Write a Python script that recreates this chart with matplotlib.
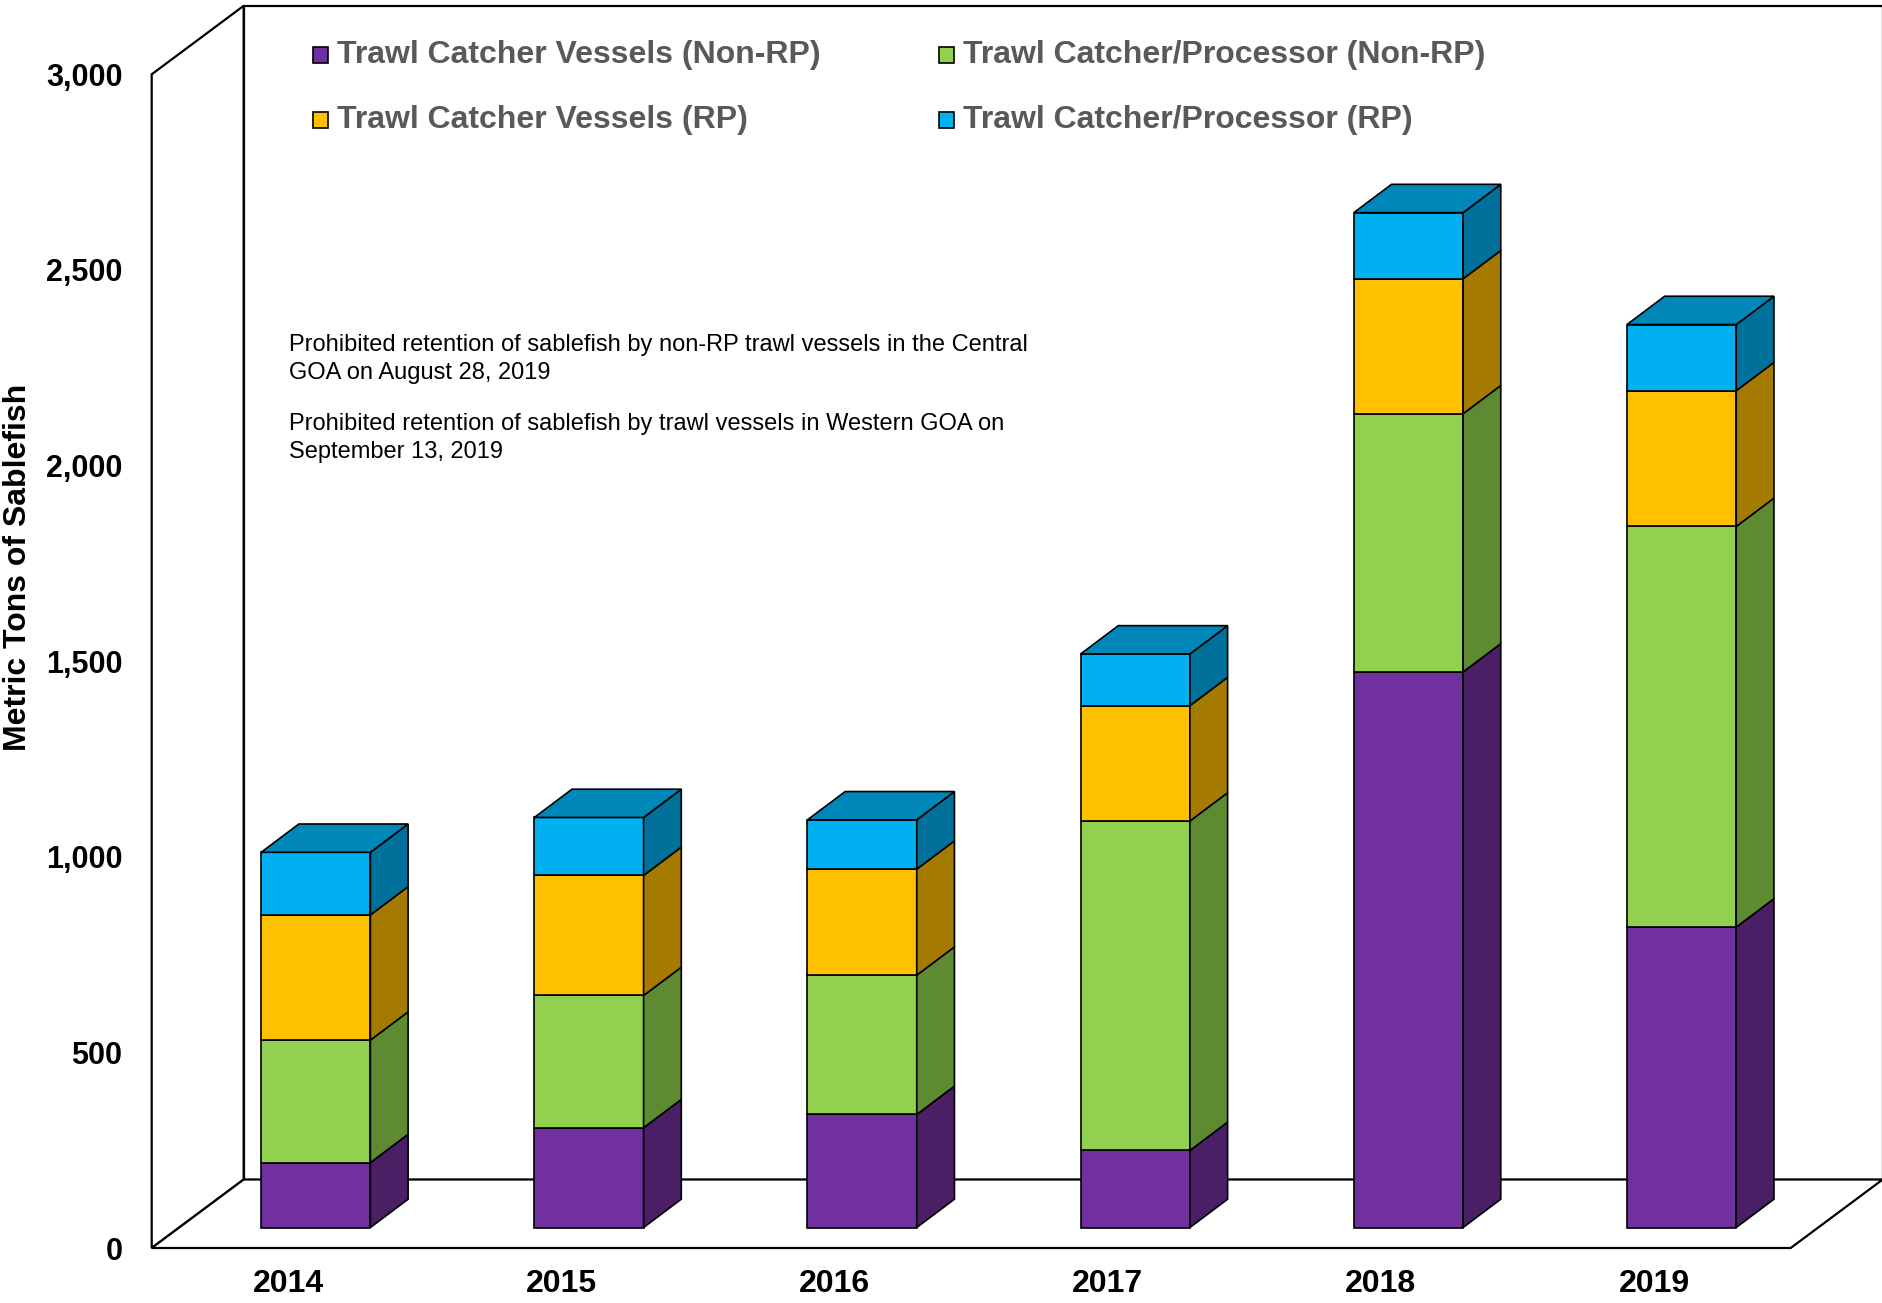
import matplotlib
matplotlib.use("Agg")
import matplotlib.pyplot as plt
from matplotlib.patches import Polygon, Rectangle

plt.rcParams["font.family"] = ["Liberation Sans", "DejaVu Sans"]

# Sablefish catch by sector (metric tons)
years = ["2014", "2015", "2016", "2017", "2018", "2019"]
cv_non_rp = [166, 255, 289, 197, 1420, 768]
cp_non_rp = [313, 338, 356, 842, 660, 1024]
cv_rp = [320, 307, 271, 295, 345, 347]
cp_rp = [160, 148, 126, 132, 169, 169]

labels = ["Trawl Catcher Vessels (Non-RP)", "Trawl Catcher/Processor (Non-RP)",
          "Trawl Catcher Vessels (RP)", "Trawl Catcher/Processor (RP)"]
front_colors = ["#7030A0", "#92D050", "#FFC000", "#00B0F0"]
side_colors = ["#4B1F66", "#5E8A32", "#A47A00", "#00719A"]
top_color = "#0087B9"

W, H = 1883, 1303
fig = plt.figure(figsize=(W / 100, H / 100), dpi=100)
ax = fig.add_axes([151.7 / W, (H - 1248) / H, 1639 / W, (1248 - 74.3) / H])
ax.set_xlim(-0.5, 5.5)
ax.set_ylim(0, 3000)
for s in ax.spines.values():
    s.set_visible(False)
ax.patch.set_visible(False)

# pixel -> data conversion for the fake 3D depth
sx = ax.bbox.width / 6
sy = ax.bbox.height / 3000


def depth(px, py):
    return px / sx, py / sy


wall_dx, wall_dy = depth(92, 68.5)
front_dx, front_dy = depth(27.5, 20.5)
bar_dx, bar_dy = depth(37.7, 28.3)


def face(pts, color, lw=1.2, z=2):
    ax.add_patch(Polygon(pts, closed=True, facecolor=color, edgecolor="black",
                         linewidth=lw, joinstyle="miter", clip_on=False, zorder=z))


# walls and floor
x0, x1 = -0.5, 5.5
face([(x0, 0), (x0, 3000), (x0 + wall_dx, 3000 + wall_dy), (x0 + wall_dx, wall_dy)], "white", 1.6, 1)
face([(x0 + wall_dx, wall_dy), (x1 + wall_dx, wall_dy), (x1 + wall_dx, 3000 + wall_dy),
      (x0 + wall_dx, 3000 + wall_dy)], "white", 1.6, 1)
face([(x0, 0), (x1, 0), (x1 + wall_dx, wall_dy), (x0 + wall_dx, wall_dy)], "white", 1.6, 1)

# stacked bars
width = 0.4
stack = [cv_non_rp, cp_non_rp, cv_rp, cp_rp]
bottoms = [0] * len(years)
xs = [i + front_dx for i in range(len(years))]
for k, vals in enumerate(stack):
    base = [b + front_dy for b in bottoms]
    ax.bar(xs, vals, width=width, bottom=base, color=front_colors[k],
           edgecolor="black", linewidth=1.2, clip_on=False, zorder=3)
    for i, v in enumerate(vals):
        xr = xs[i] + width / 2
        yb = base[i]
        yt = base[i] + v
        face([(xr, yb), (xr + bar_dx, yb + bar_dy), (xr + bar_dx, yt + bar_dy), (xr, yt)],
             side_colors[k], 1.2, 3)
        if k == len(stack) - 1:
            xl = xs[i] - width / 2
            face([(xl, yt), (xr, yt), (xr + bar_dx, yt + bar_dy), (xl + bar_dx, yt + bar_dy)],
                 top_color, 1.2, 3)
    bottoms = [b + v for b, v in zip(bottoms, vals)]

# axes ticks
ax.set_xticks(range(len(years)), years, fontsize=23, fontweight="bold")
ax.set_yticks(range(0, 3001, 500), [f"{v:,}" for v in range(0, 3001, 500)],
              fontsize=22, fontweight="bold")
ax.tick_params(axis="x", length=0, pad=15)
ax.tick_params(axis="y", length=0, pad=21)

fig.text(18 / W, 1 - 567 / H, "Metric Tons of Sablefish", rotation=90, ha="center",
         va="center", fontsize=23, fontweight="bold")

# annotations
fig.text(289 / W, 1 - 334 / H,
         "Prohibited retention of sablefish by non-RP trawl vessels in the Central\nGOA on August 28, 2019",
         ha="left", va="top", fontsize=17, linespacing=1.38)
fig.text(289 / W, 1 - 413 / H,
         "Prohibited retention of sablefish by trawl vessels in Western GOA on\nSeptember 13, 2019",
         ha="left", va="top", fontsize=17, linespacing=1.38)

# legend (drawn by hand to match the layout)
legend_pos = [(313, 55), (939, 55), (313, 120), (939, 120)]
for k, (lx, ly) in enumerate(legend_pos):
    fig.add_artist(Rectangle((lx / W, 1 - (ly + 8) / H), 15 / W, 16 / H,
                             facecolor=front_colors[k], edgecolor="black",
                             linewidth=1.2, transform=fig.transFigure))
    fig.text((lx + 24) / W, 1 - ly / H, labels[k], ha="left", va="center",
             fontsize=23, fontweight="bold", color="#595959")

fig.savefig("out.png", dpi=100)
